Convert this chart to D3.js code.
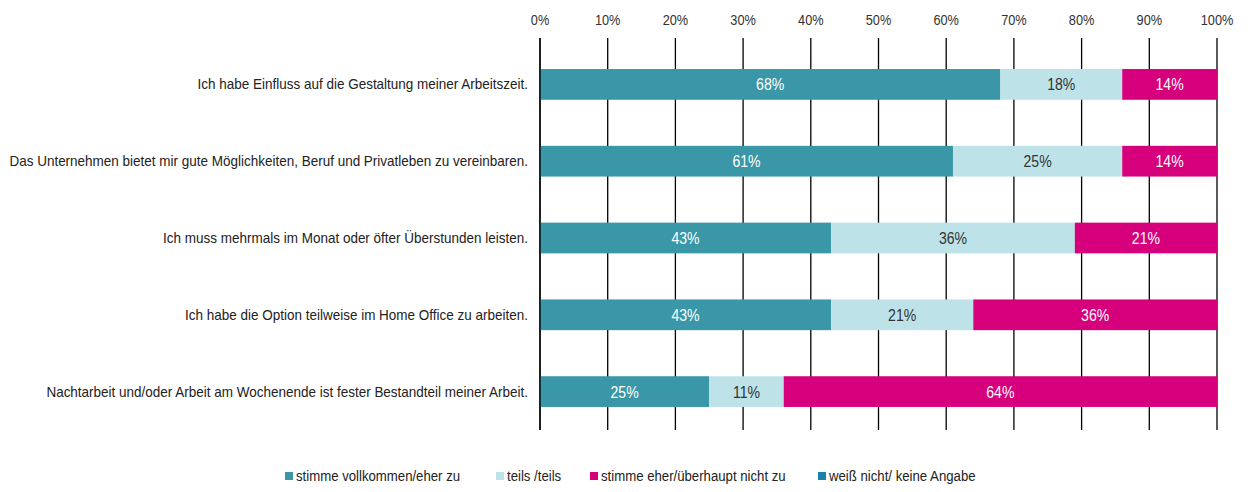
<!DOCTYPE html>
<html>
<head>
<meta charset="utf-8">
<script src="https://cdn.jsdelivr.net/npm/d3@7"></script>
<style>
  body { margin: 0; background: #fff; }
  svg text { font-family: "Liberation Sans", Arial, sans-serif; }
</style>
</head>
<body>
<div id="chart"></div>
<script>
// statements shown on the left
var statements = [
    'Ich habe Einfluss auf die Gestaltung meiner Arbeitszeit.',
    'Das Unternehmen bietet mir gute Möglichkeiten, Beruf und Privatleben zu vereinbaren.',
    'Ich muss mehrmals im Monat oder öfter Überstunden leisten.',
    'Ich habe die Option teilweise im Home Office zu arbeiten.',
    'Nachtarbeit und/oder Arbeit am Wochenende ist fester Bestandteil meiner Arbeit.'
]

var seriesNames = ['stimme vollkommen/eher zu', 'teils /teils', 'stimme eher/überhaupt nicht zu', 'weiß nicht/ keine Angabe']
var seriesColors = ['#3997a7', '#bde3e9', '#d6007d', '#1a82aa']
var labelColors = ['#ffffff', '#333333', '#ffffff', '#ffffff']

// percent values per series, same order as statements
var agree    = [68, 61, 43, 43, 25]
var partly   = [18, 25, 36, 21, 11]
var disagree = [14, 14, 21, 36, 64]
var dontKnow = [0, 0, 0, 0, 0]

var tickValues = [0, 10, 20, 30, 40, 50, 60, 70, 80, 90, 100]

var width = 1251, height = 492
var squeeze = 0.88 // fake a narrow font, no Arial Narrow here

var svg = d3.select('#chart').append('svg')
    .attr('width', width)
    .attr('height', height)

var x = d3.scaleLinear().domain([0, 100]).range([540, 1217])
var y = d3.scaleBand().domain(statements).range([46, 430]).paddingInner(0.6).paddingOuter(0.3)

function narrow(px, py, s){
    return 'translate(' + px + ',' + py + ') scale(' + (s || squeeze) + ',1)'
}

// build stacked rows
var rows = statements.map(function(s, i){
    return {'name': s, 'v': [agree[i], partly[i], disagree[i], dontKnow[i]]}
})

// grid lines (drawn as black vertical ticks)
svg.append('g')
    .selectAll('line')
    .data(tickValues)
    .enter().append('line')
    .attr('x1', d => x(d)).attr('x2', d => x(d))
    .attr('y1', 38).attr('y2', 430)
    .attr('stroke', '#000')
    .attr('stroke-width', 1.3)

// top tick labels
svg.append('g')
    .selectAll('text')
    .data(tickValues)
    .enter().append('text')
    .attr('transform', d => narrow(x(d), 25, 0.85))
    .attr('text-anchor', 'middle')
    .attr('font-size', '15px')
    .attr('fill', '#333')
    .text(d => d + '%')

// bars
var rowG = svg.append('g').selectAll('g')
    .data(rows)
    .enter().append('g')

rowG.each(function(r){
    var g = d3.select(this)
    var cum = 0
    r.v.forEach(function(val, k){
        if (val > 0){
            g.append('rect')
                .attr('x', x(cum))
                .attr('y', y(r.name))
                .attr('width', x(cum + val) - x(cum))
                .attr('height', y.bandwidth())
                .attr('fill', seriesColors[k])
            g.append('text')
                .attr('transform', narrow((x(cum) + x(cum + val)) / 2, y(r.name) + y.bandwidth() / 2 + 6))
                .attr('text-anchor', 'middle')
                .attr('font-size', '16px')
                .attr('fill', labelColors[k])
                .text(val + '%')
        }
        cum += val
    })
})

// left axis line over the bars
svg.append('line')
    .attr('x1', x(0)).attr('x2', x(0))
    .attr('y1', 38).attr('y2', 430)
    .attr('stroke', '#000')
    .attr('stroke-width', 1.3)

// category labels
svg.append('g')
    .selectAll('text')
    .data(statements)
    .enter().append('text')
    .attr('transform', d => narrow(528, y(d) + y.bandwidth() / 2 + 5, 0.9))
    .attr('text-anchor', 'end')
    .attr('font-size', '15px')
    .attr('fill', '#222')
    .text(d => d)

// legend
var legendX = [285, 496, 590, 818]
var legend = svg.append('g').selectAll('g')
    .data(seriesNames)
    .enter().append('g')
    .attr('transform', (d, i) => 'translate(' + legendX[i] + ',481)')

legend.append('rect')
    .attr('x', 0).attr('y', -9)
    .attr('width', 8).attr('height', 8)
    .attr('fill', (d, i) => seriesColors[i])

legend.append('text')
    .attr('transform', narrow(11, 0))
    .attr('font-size', '15px')
    .attr('fill', '#222')
    .text(d => d)
</script>
</body>
</html>
